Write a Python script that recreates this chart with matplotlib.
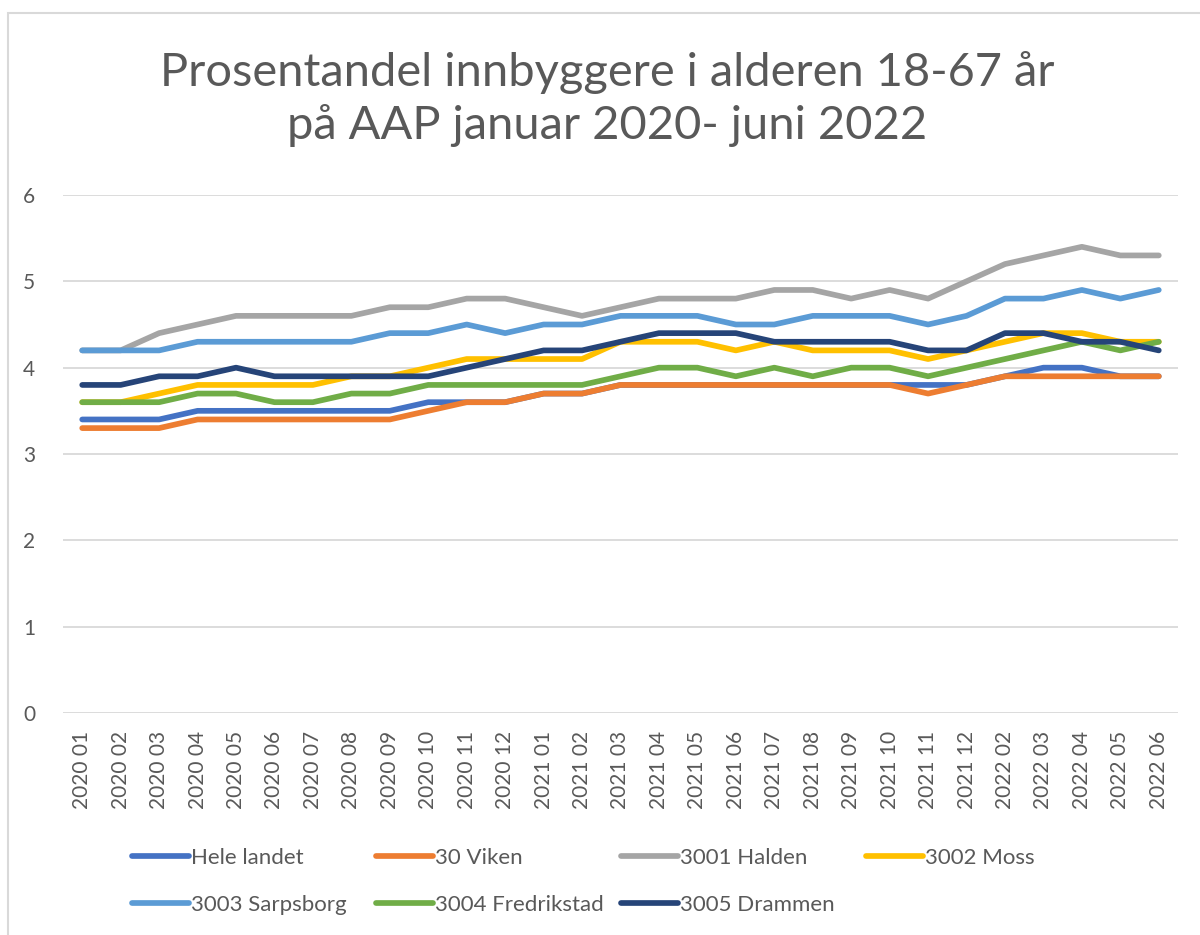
import matplotlib
matplotlib.use("Agg")
import matplotlib.pyplot as plt
import matplotlib.patches as mpatches
from matplotlib.lines import Line2D

plt.rcParams['font.family'] = ['Lato', 'DejaVu Sans']

# months on the x axis (no 2022 01 in the source)
months = ["2020 01", "2020 02", "2020 03", "2020 04", "2020 05", "2020 06",
          "2020 07", "2020 08", "2020 09", "2020 10", "2020 11", "2020 12",
          "2021 01", "2021 02", "2021 03", "2021 04", "2021 05", "2021 06",
          "2021 07", "2021 08", "2021 09", "2021 10", "2021 11", "2021 12",
          "2022 02", "2022 03", "2022 04", "2022 05", "2022 06"]

hele_landet = [3.4, 3.4, 3.4, 3.5, 3.5, 3.5, 3.5, 3.5, 3.5, 3.6, 3.6, 3.6,
               3.7, 3.7, 3.8, 3.8, 3.8, 3.8, 3.8, 3.8, 3.8, 3.8, 3.8, 3.8,
               3.9, 4.0, 4.0, 3.9, 3.9]
viken = [3.3, 3.3, 3.3, 3.4, 3.4, 3.4, 3.4, 3.4, 3.4, 3.5, 3.6, 3.6,
         3.7, 3.7, 3.8, 3.8, 3.8, 3.8, 3.8, 3.8, 3.8, 3.8, 3.7, 3.8,
         3.9, 3.9, 3.9, 3.9, 3.9]
halden = [4.2, 4.2, 4.4, 4.5, 4.6, 4.6, 4.6, 4.6, 4.7, 4.7, 4.8, 4.8,
          4.7, 4.6, 4.7, 4.8, 4.8, 4.8, 4.9, 4.9, 4.8, 4.9, 4.8, 5.0,
          5.2, 5.3, 5.4, 5.3, 5.3]
moss = [3.6, 3.6, 3.7, 3.8, 3.8, 3.8, 3.8, 3.9, 3.9, 4.0, 4.1, 4.1,
        4.1, 4.1, 4.3, 4.3, 4.3, 4.2, 4.3, 4.2, 4.2, 4.2, 4.1, 4.2,
        4.3, 4.4, 4.4, 4.3, 4.3]
sarpsborg = [4.2, 4.2, 4.2, 4.3, 4.3, 4.3, 4.3, 4.3, 4.4, 4.4, 4.5, 4.4,
             4.5, 4.5, 4.6, 4.6, 4.6, 4.5, 4.5, 4.6, 4.6, 4.6, 4.5, 4.6,
             4.8, 4.8, 4.9, 4.8, 4.9]
fredrikstad = [3.6, 3.6, 3.6, 3.7, 3.7, 3.6, 3.6, 3.7, 3.7, 3.8, 3.8, 3.8,
               3.8, 3.8, 3.9, 4.0, 4.0, 3.9, 4.0, 3.9, 4.0, 4.0, 3.9, 4.0,
               4.1, 4.2, 4.3, 4.2, 4.3]
drammen = [3.8, 3.8, 3.9, 3.9, 4.0, 3.9, 3.9, 3.9, 3.9, 3.9, 4.0, 4.1,
           4.2, 4.2, 4.3, 4.4, 4.4, 4.4, 4.3, 4.3, 4.3, 4.3, 4.2, 4.2,
           4.4, 4.4, 4.3, 4.3, 4.2]

series_names = ["Hele landet", "30 Viken", "3001 Halden", "3002 Moss",
                "3003 Sarpsborg", "3004 Fredrikstad", "3005 Drammen"]
series_values = [hele_landet, viken, halden, moss, sarpsborg, fredrikstad, drammen]
colors = ["#4472C4", "#ED7D31", "#A5A5A5", "#FFC000", "#5B9BD5", "#70AD47", "#264478"]

txt = "#595959"
grid = "#D9D9D9"

fig = plt.figure(figsize=(12, 9.35), dpi=100)

# light frame around the chart (only top/left visible in the screenshot)
fig.patches.append(mpatches.Rectangle((8 / 1200, -0.1), 1.2, 1 - 13 / 935 + 0.1,
                                      transform=fig.transFigure, fill=False,
                                      edgecolor=grid, linewidth=1.5))

ax = fig.add_axes([63 / 1200, 1 - 713 / 935, 1115 / 1200, 518 / 935])

x = list(range(len(months)))
for name, vals, c in zip(series_names, series_values, colors):
    ax.plot(x, vals, color=c, lw=4.1, solid_capstyle='round',
            solid_joinstyle='round', label=name)

ax.set_xlim(-0.5, len(months) - 0.5)
ax.set_ylim(0, 6)
ax.set_yticks(range(0, 7))
ax.set_xticks(x)
ax.set_xticklabels(months, rotation=90, va='top', ha='center')
ax.tick_params(axis='x', length=0, pad=13, labelsize=15, labelcolor=txt)
ax.tick_params(axis='y', length=0, pad=20, labelsize=15, labelcolor=txt)
ax.grid(axis='y', color=grid, lw=1.3)
ax.set_axisbelow(True)
for s in ax.spines.values():
    s.set_visible(False)

fig.text(0.506, 1 - 99 / 935,
         "Prosentandel innbyggere i alderen 18-67 år\npå AAP januar 2020- juni 2022",
         ha='center', va='center', fontsize=33.8, color=txt, linespacing=1.3)

# legend laid out in four fixed columns like the Excel original
columns = [[0, 4], [1, 5], [2, 6], [3]]
col_x = [121, 365, 610, 855]
for cols, cx in zip(columns, col_x):
    hs = [Line2D([], [], color=colors[i], lw=4.1, solid_capstyle='round') for i in cols]
    fig.legend(hs, [series_names[i] for i in cols], loc='upper left',
               bbox_to_anchor=(cx / 1200, 1 - 837 / 935), frameon=False,
               fontsize=16, labelcolor=txt, handlelength=2.55,
               handletextpad=0.12, labelspacing=1.2, borderpad=0)

fig.savefig("out.png", dpi=100)
